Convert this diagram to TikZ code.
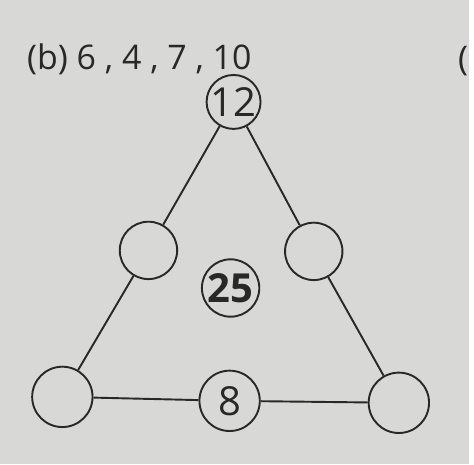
\documentclass[tikz,border=0pt]{standalone}
\usepackage{fontspec}
\setmainfont{Open Sans}
\definecolor{paper}{RGB}{216,216,215}
\definecolor{ink}{RGB}{40,40,40}
\tikzset{
  ring/.style={circle,draw=ink,line width=1.1pt,minimum size=1.16cm,inner sep=0pt,
    text=ink,font=\fontsize{23}{23}\selectfont},
  edge/.style={draw=ink,line width=1.1pt}
}
\begin{document}
\begin{tikzpicture}[x=0.02cm,y=-0.02cm]
\fill[paper] (0,0) rectangle (474,469);
\node[anchor=west,inner sep=0pt,text=ink,font=\fontsize{19.5}{20}\selectfont] (title) at (27,60) {(b) 6 , 4 , 7 , 10};
\node[text=ink,font=\fontsize{19.5}{20}\selectfont] (next) at (468,62) {(};
% circles
\node[ring,minimum size=1.08cm] (top) at (236,103) {12};
\node[ring] (midl) at (150,253) {};
\node[ring] (midr) at (317,254) {};
\node[ring,font=\fontsize{23}{23}\bfseries\selectfont] (sum) at (233,291) {25};
\node[ring,minimum size=1.22cm] (botl) at (63,401) {};
\node[ring,minimum size=1.22cm] (botm) at (232,405) {8};
\node[ring,minimum size=1.22cm] (botr) at (403,407) {};
% sides
\draw[edge] (top) -- (midl) -- (botl) -- (botm) -- (botr) -- (midr) -- (top);
\end{tikzpicture}
\end{document}
